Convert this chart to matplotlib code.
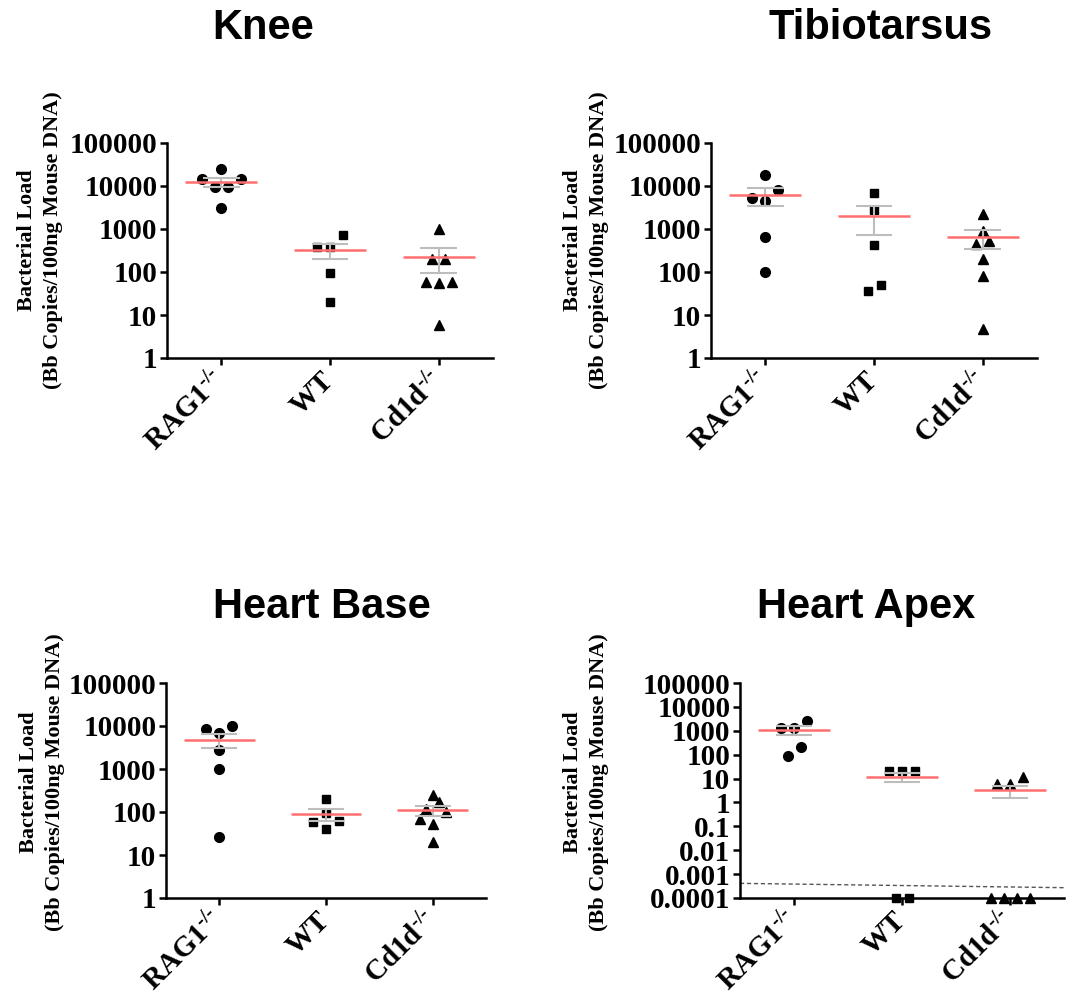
import numpy as np
import matplotlib
matplotlib.use('Agg')
import matplotlib.pyplot as plt

# --- dados (copias Bb / 100ng DNA) ---
groups = ['RAG1-/-', 'WT', 'Cd1d-/-']
group_labels = [r'RAG1$^{\text{-/-}}$', 'WT', r'Cd1d$^{\text{-/-}}$']
markers = ['o', 's', '^']

knee_rag1 = [24800, 14300, 14300, 9660, 9660, 3130]
knee_wt = [738, 381, 381, 93, 20]
knee_cd1d = [1000, 200, 200, 60, 58, 55, 6]

tibio_rag1 = [18400, 8070, 4560, 5170, 640, 98]
tibio_wt = [7000, 2720, 420, 36.8, 49.9]
tibio_cd1d = [2280, 915, 525, 450, 200, 82, 4.7]

base_rag1 = [10000, 8380, 6900, 2700, 1000, 25.7]
base_wt = [197, 95, 63, 60, 41]
base_cd1d = [247, 167, 117, 102, 69, 54, 20]

apex_rag1 = [2620, 1330, 1330, 215, 91]
apex_wt = [20.2, 20.2, 20.2, 0, 0]
apex_cd1d = [11.4, 5.8, 5.8, 0, 0, 0, 0]
apex_detection = [4.1e-4, 2.7e-4]   # linha tracejada (limite de deteccao)

titles = ['Knee', 'Tibiotarsus', 'Heart Base', 'Heart Apex']
ylabel = 'Bacterial Load\n(Bb Copies/100ng Mouse DNA)'

plt.rcParams['font.family'] = 'Liberation Serif'
plt.rcParams['font.weight'] = 'bold'
plt.rcParams['mathtext.fontset'] = 'custom'
plt.rcParams['mathtext.rm'] = 'Liberation Serif:bold'
plt.rcParams['mathtext.it'] = 'Liberation Serif:bold'
plt.rcParams['mathtext.bf'] = 'Liberation Serif:bold'

W, H = 1066, 1001
fig = plt.figure(figsize=(W / 100, H / 100), dpi=100)


def box(l, r, t, b):
    return [l / W, 1 - b / H, (r - l) / W, (b - t) / H]


panels = [
    dict(data=[knee_rag1, knee_wt, knee_cd1d], pos=box(167, 493, 143, 358),
         ylim=(1, 1e5), title_xy=(263, 28), label_xy=(40, 240)),
    dict(data=[tibio_rag1, tibio_wt, tibio_cd1d], pos=box(711, 1037, 143, 358),
         ylim=(1, 1e5), title_xy=(881, 28), label_xy=(586, 240)),
    dict(data=[base_rag1, base_wt, base_cd1d], pos=box(166, 486, 683, 898),
         ylim=(1, 1e5), title_xy=(322, 607), label_xy=(42, 782)),
    dict(data=[apex_rag1, apex_wt, apex_cd1d], pos=box(740, 1064, 683, 898),
         ylim=(1e-4, 1e5), title_xy=(866, 607), label_xy=(586, 782),
         lod=apex_detection),
]

STEP = 13  # espacamento entre pontos (px)


def swarm_offsets(ax, values):
    # espalha horizontalmente pontos com valores parecidos (estilo GraphPad)
    y = ax.transData.transform(np.column_stack([np.zeros(len(values)), values]))[:, 1]
    unit = ax.transData.transform((1, 1))[0] - ax.transData.transform((0, 1))[0]
    order = np.argsort(y, kind='stable')
    off = np.zeros(len(values))
    i = 0
    while i < len(order):
        row = [order[i]]
        j = i + 1
        while j < len(order) and y[order[j]] - y[order[i]] <= STEP:
            row.append(order[j])
            j += 1
        k = len(row)
        if k % 2:
            slots = [0, -1, 1, -2, 2, -3, 3][:k]
        else:
            slots = [-0.5, 0.5, -1.5, 1.5, -2.5, 2.5][:k]
        for idx, s in zip(row, slots):
            off[idx] = s * STEP / unit
        i = j
    return off


def fmt(v):
    return ('%f' % v).rstrip('0').rstrip('.')


for p, title in zip(panels, titles):
    ax = fig.add_axes(p['pos'])
    ax.set_yscale('log')
    ax.set_xlim(-0.5, 2.5)
    ax.set_ylim(*p['ylim'])

    for gi, vals in enumerate(p['data']):
        vals = np.array(vals, dtype=float)
        shown = np.maximum(vals, p['ylim'][0])
        xs = gi + swarm_offsets(ax, shown)
        ms = 7.5 if markers[gi] == '^' else (6.3 if markers[gi] == 's' else 7)
        ax.plot(xs, shown, linestyle='none', marker=markers[gi], color='black',
                markersize=ms, clip_on=False, zorder=3)
        m = vals.mean()
        sem = vals.std(ddof=1) / np.sqrt(len(vals))
        ax.vlines(gi, m - sem, m + sem, color='#bdbdbd', linewidth=1.5, zorder=4)
        ax.hlines([m - sem, m + sem], gi - 0.17, gi + 0.17, color='#bdbdbd',
                  linewidth=1.5, zorder=4)
        ax.hlines(m, gi - 0.33, gi + 0.33, color='#ff6f6f', linewidth=1.8, zorder=5)

    if 'lod' in p:
        ax.plot([-0.5, 2.5], p['lod'], linestyle='--', color='#555555',
                linewidth=1, dashes=(3, 2), zorder=2)

    lo, hi = np.log10(p['ylim'])
    ticks = 10.0 ** np.arange(lo, hi + 1)
    ax.set_yticks(ticks)
    ax.set_yticklabels([fmt(t) for t in ticks], fontsize=21, fontweight='bold')
    ax.yaxis.set_minor_locator(matplotlib.ticker.NullLocator())
    ax.set_xticks(range(len(groups)))
    ax.set_xticklabels(group_labels, fontsize=21, fontweight='bold', rotation=45,
                       ha='right', va='center', rotation_mode='anchor')

    for s in ['top', 'right']:
        ax.spines[s].set_visible(False)
    for s in ['left', 'bottom']:
        ax.spines[s].set_linewidth(1.8)
    ax.tick_params(axis='both', width=1.8, length=5, pad=2)
    ax.tick_params(axis='x', pad=8)

    fig.text(p['label_xy'][0] / W, 1 - p['label_xy'][1] / H, ylabel,
             fontsize=16, fontweight='bold', rotation=90, ha='center',
             va='center', multialignment='center', linespacing=1.4)

    fig.text(p['title_xy'][0] / W, 1 - p['title_xy'][1] / H, title,
             family='Liberation Sans', fontsize=30, fontweight='bold',
             ha='center', va='center')

fig.savefig('out.png', dpi=100)
